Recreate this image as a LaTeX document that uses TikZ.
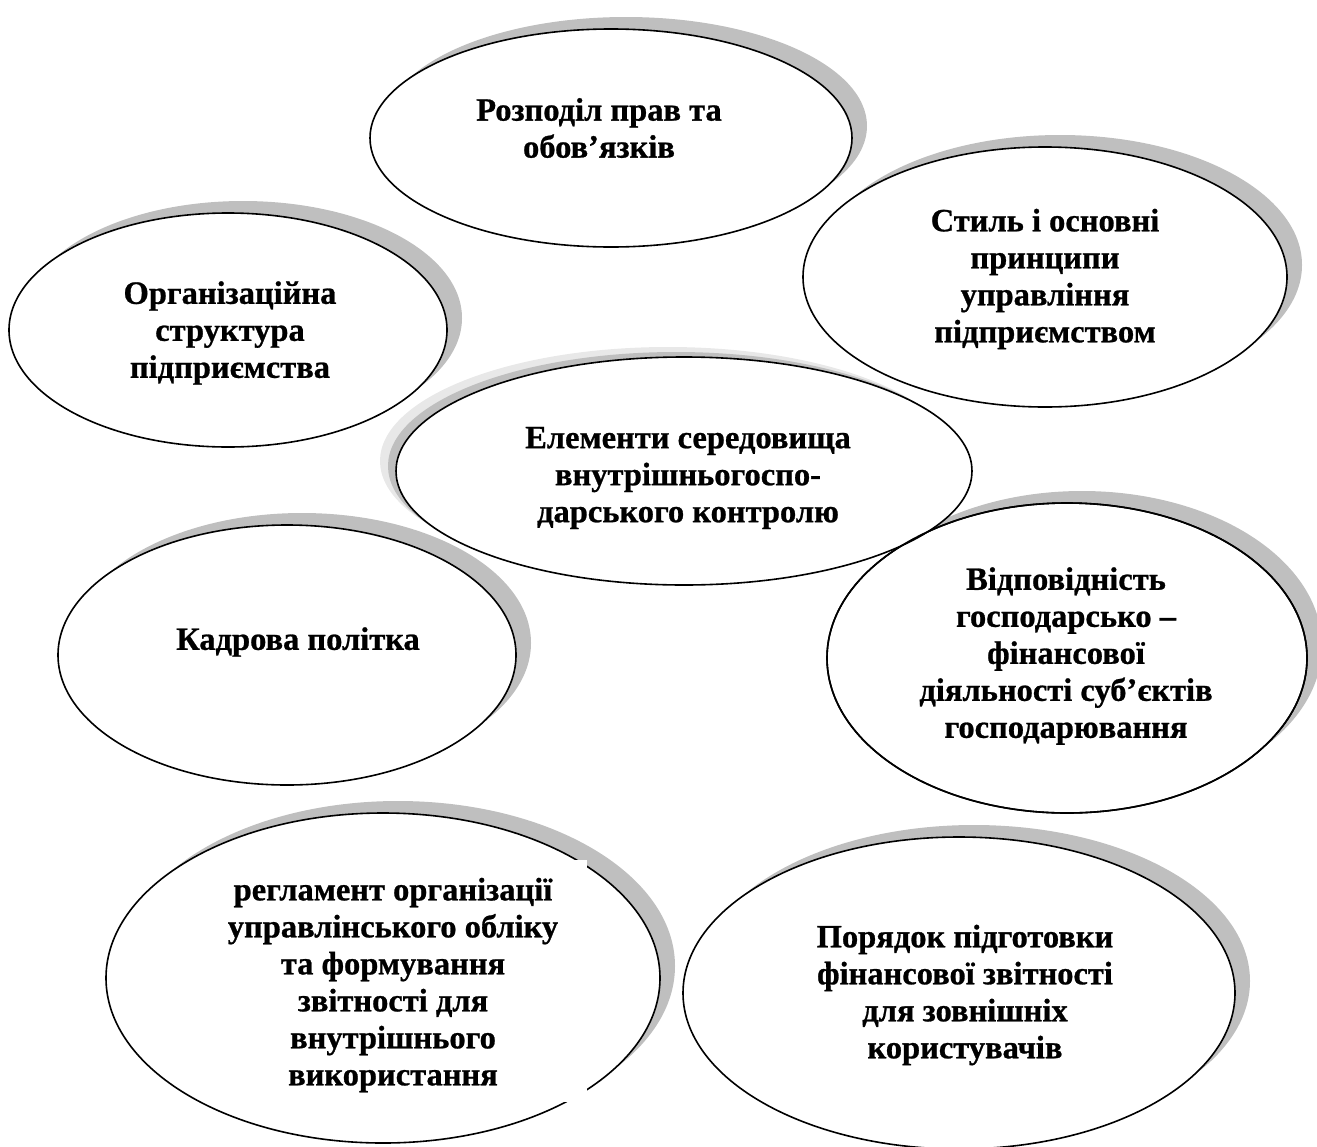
\documentclass[tikz,border=0pt]{standalone}
\usepackage{fontspec}
\setmainfont{Liberation Serif}[BoldFeatures={FakeBold=0.8}]
\usetikzlibrary{shapes.geometric}
\definecolor{mShadow}{HTML}{BFBFBF}
\definecolor{mShadowLight}{HTML}{E8E8E8}

% shadow first, then the ellipse node on top of it
\newcommand{\bubblenode}[5]{%
  \fill[mShadow] (#2+15,#3-12) ellipse [x radius=#4/2, y radius=#5/2];
  \node[bubble, minimum width=#4, minimum height=#5] (#1) at (#2,#3) {};}

\begin{document}
\begin{tikzpicture}[x=1pt, y=-1pt,
    bubble/.style={ellipse, draw=black, line width=1.6pt, fill=white, inner sep=0pt},
    btext/.style={align=center, inner sep=0pt, font=\bfseries\fontsize{32.5}{37}\selectfont}]
    \useasboundingbox (0,0) rectangle (1317,1146);

    % outer ring
    \bubblenode{e1}{611}{138}{482}{218}
    \bubblenode{e2}{1045}{277}{484}{260}
    \bubblenode{e3}{228}{330}{438}{234}
    \bubblenode{e5}{287}{655}{458}{260}
    \bubblenode{e6}{1067}{658}{480}{310}
    \bubblenode{e7}{383}{978}{554}{330}
    \bubblenode{e8}{959}{993}{552}{312}

    % centre, shadow to the upper left
    \fill[mShadowLight] (684-16,471-10) ellipse [x radius=288, y radius=114];
    \fill[mShadow] (684-8,471-5) ellipse [x radius=288, y radius=114];
    \node[bubble, minimum width=576, minimum height=228] (e4) at (684,471) {};
    \draw[line width=1.6pt] (e6.center) ellipse [x radius=240, y radius=155];

    % text box over e7
    \fill[white] (300,860) rectangle (587,1102);

    \node[btext] (t1) at (599,128) {Розподіл прав та\\обов’язків};
    \node[btext] (t2) at (1045,279) {Стиль і основні\\принципи\\управління\\підприємством};
    \node[btext] (t3) at (230,333) {Організаційна\\структура\\підприємства};
    \node[btext] (t4) at (688,478) {Елементи середовища\\внутрішньогоспо-\\дарського контролю};
    \node[btext] (t5) at (298,642) {Кадрова політка};
    \node[btext] (t6) at (1066,656) {Відповідність\\господарсько –\\фінансової\\діяльності суб’єктів\\господарювання};
    \node[btext] (t7) at (393,985) {регламент організації\\управлінського обліку\\та формування\\звітності для\\внутрішнього\\використання};
    \node[btext] (t8) at (965,995) {Порядок підготовки\\фінансової звітності\\для зовнішніх\\користувачів};
\end{tikzpicture}
\end{document}
